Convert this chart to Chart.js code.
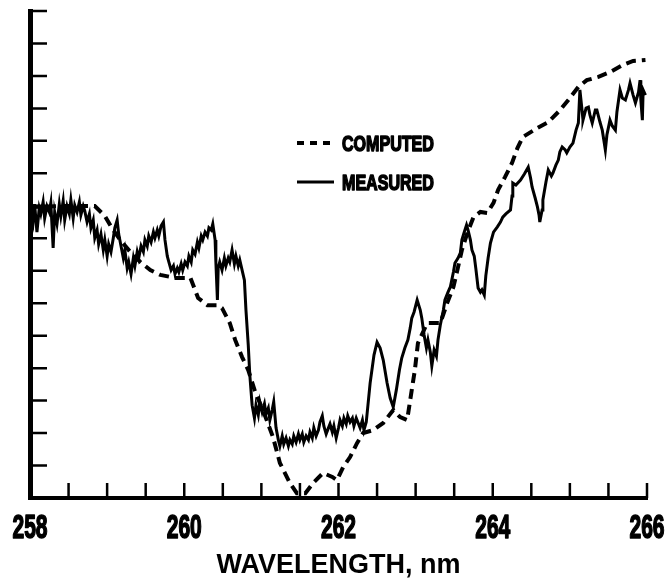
<!DOCTYPE html>
<html>
<head>
<meta charset="utf-8">
<script src="https://cdn.jsdelivr.net/npm/chart.js@4/dist/chart.umd.min.js"></script>
<style>
  html, body { margin: 0; padding: 0; background: #fff; }
</style>
</head>
<body>
<canvas id="myChart" width="668" height="578"></canvas>
<script>
// wavelength (nm) / relative signal
const computedX = [258.00, 258.39, 258.84, 258.97, 259.06, 259.17, 259.30, 259.43, 259.56, 259.69, 259.88, 260.08, 260.18, 260.30, 260.43, 260.49, 260.59, 260.66, 260.75, 260.83, 260.92, 261.02, 261.15, 261.24, 261.37, 261.46, 261.57, 261.67, 261.80, 261.92, 261.98, 262.06, 262.15, 262.24, 262.32, 262.45, 262.58, 262.71, 262.80, 262.89, 262.95, 262.99, 263.03, 263.15, 263.32, 263.41, 263.49, 263.55, 263.60, 263.67, 263.75, 263.84, 263.93, 264.01, 264.07, 264.16, 264.25, 264.32, 264.39, 264.58, 264.72, 264.85, 264.98, 265.11, 265.22, 265.37, 265.52, 265.69, 265.82, 265.98];
const computedY = [8.96, 8.99, 8.99, 8.69, 8.32, 7.95, 7.58, 7.27, 7.02, 6.87, 6.78, 6.78, 6.16, 5.94, 5.94, 5.85, 5.39, 4.87, 4.34, 3.94, 3.26, 2.71, 1.88, 1.08, 0.46, 0.15, 0.15, 0.46, 0.77, 0.65, 0.55, 0.95, 1.26, 1.69, 2.00, 2.09, 2.31, 2.71, 2.49, 2.40, 3.33, 3.94, 4.77, 5.39, 5.39, 6.01, 6.50, 7.11, 7.64, 8.16, 8.65, 8.81, 8.78, 9.09, 9.49, 9.89, 10.32, 10.78, 11.12, 11.40, 11.58, 11.89, 12.26, 12.66, 12.87, 12.97, 13.12, 13.34, 13.46, 13.49];

const measuredX = [
  258.01, 258.04, 258.06, 258.09, 258.12, 258.14, 258.17, 258.19, 258.22, 258.25, 258.27, 258.30, 258.32, 258.35, 258.38, 258.40, 258.43, 258.45, 258.48, 258.51, 258.53, 258.56, 258.58, 258.61, 258.64, 258.66, 258.69, 258.71, 258.74, 258.77, 258.79, 258.82, 258.84,
  258.87, 258.89, 258.92, 258.95, 258.97, 259.00, 259.02, 259.05, 259.08, 259.10, 259.13, 259.15, 259.18, 259.21, 259.23, 259.26, 259.28, 259.31, 259.34, 259.36, 259.39, 259.41, 259.44, 259.47, 259.49, 259.52, 259.54, 259.57, 259.60, 259.62, 259.65, 259.67, 259.70, 259.73,
  259.75, 259.78, 259.80, 259.83, 259.86, 259.88, 259.91, 259.93, 259.96, 259.98, 260.01, 260.04, 260.06, 260.09, 260.11, 260.14, 260.17, 260.19, 260.22, 260.24, 260.27, 260.30, 260.32, 260.35, 260.37,
  260.40, 260.41, 260.43, 260.44, 260.46, 260.49, 260.52, 260.54, 260.57, 260.59, 260.62, 260.65, 260.67, 260.70, 260.72, 260.75, 260.78,
  260.80, 260.83, 260.85, 260.88, 260.91, 260.93, 260.96, 260.98, 261.01, 261.04, 261.06, 261.09, 261.11, 261.14, 261.16, 261.19, 261.22, 261.24, 261.27, 261.29, 261.32, 261.35, 261.37,
  261.40, 261.42, 261.45, 261.48, 261.50, 261.53, 261.55, 261.58, 261.61, 261.63, 261.66, 261.68, 261.71, 261.74, 261.76, 261.79, 261.81, 261.84, 261.87, 261.89, 261.92, 261.94, 261.97, 262.00, 262.02, 262.05, 262.07, 262.10, 262.12, 262.15, 262.18, 262.20, 262.23, 262.25, 262.28, 262.31, 262.33, 262.36,
  262.41, 262.46, 262.50, 262.54, 262.58, 262.63, 262.67, 262.71, 262.75, 262.79, 262.82, 262.86, 262.90, 262.93, 262.95, 262.98, 263.02, 263.06, 263.08, 263.11, 263.14, 263.16, 263.19, 263.21, 263.24, 263.27, 263.29, 263.32,
  263.36, 263.38, 263.42, 263.45, 263.49, 263.51, 263.55, 263.58, 263.60, 263.63, 263.66, 263.68, 263.71, 263.73, 263.76, 263.78, 263.81, 263.84, 263.86, 263.89, 263.91, 263.94, 263.97,
  264.01, 264.06, 264.10, 264.13, 264.17, 264.23, 264.25, 264.26, 264.30, 264.36, 264.41, 264.46, 264.49, 264.51, 264.55, 264.58, 264.60, 264.61, 264.64, 264.65, 264.69, 264.72, 264.76, 264.78, 264.82, 264.85, 264.87, 264.90, 264.94, 264.96, 265.00, 265.04, 265.08, 265.11, 265.13, 265.16, 265.17, 265.21, 265.24, 265.26, 265.29, 265.33, 265.35, 265.39, 265.42, 265.44, 265.46, 265.48, 265.52, 265.55, 265.59, 265.61, 265.65, 265.68, 265.72, 265.76, 265.78, 265.82, 265.85, 265.89, 265.91, 265.92, 265.94, 265.95, 265.98
];
const measuredY = [
  8.87, 8.50, 9.05, 8.19, 8.93, 8.75, 9.12, 8.62, 8.99, 8.81, 9.09, 7.70, 8.81, 8.44, 9.05, 8.69, 9.15, 8.56, 8.99, 8.75, 9.18, 8.62, 9.02, 8.81, 9.12, 8.72, 8.99, 8.84, 8.50, 8.75, 8.32, 8.56, 8.01,
  8.25, 7.82, 8.13, 7.64, 7.95, 7.45, 7.82, 7.58, 8.01, 8.32, 8.56, 8.13, 7.76, 7.39, 7.64, 7.08, 7.27, 6.90, 7.39, 7.15, 7.58, 7.39, 7.76, 7.58, 7.95, 7.76, 8.07, 7.88, 8.19, 8.01, 8.25, 8.07, 8.38, 8.50,
  7.95, 7.45, 7.27, 7.02, 7.15, 6.90, 7.08, 6.96, 7.21, 7.02, 7.27, 7.15, 7.45, 7.27, 7.64, 7.51, 7.88, 7.70, 8.07, 7.95, 8.19, 8.07, 8.32, 8.25, 8.44,
  7.95, 7.27, 6.10, 7.08, 7.27, 7.02, 7.39, 7.15, 7.39, 7.27, 7.64, 7.21, 7.45, 7.15, 7.33, 7.02, 6.71,
  5.79, 4.71, 3.79, 2.86, 2.46, 2.86, 2.56, 2.96, 2.65, 2.90, 2.59, 2.77, 2.40, 2.71, 2.96, 2.16, 1.79, 1.60, 1.91, 1.66, 1.85, 1.60, 1.79,
  1.66, 1.91, 1.72, 1.97, 1.79, 1.97, 1.72, 1.91, 1.79, 2.03, 1.85, 2.16, 1.91, 2.09, 2.34, 2.53, 2.22, 1.97, 2.16, 2.28, 2.03, 2.22, 1.85, 2.16, 2.40, 2.22, 2.46, 2.28, 2.53, 2.34, 2.46, 2.22, 2.46, 2.34, 2.16, 2.40, 2.09, 2.34,
  3.54, 4.40, 4.80, 4.62, 4.25, 3.54, 3.08, 2.80, 3.33, 3.94, 4.31, 4.62, 4.87, 5.24, 5.54, 5.73, 6.10, 5.79, 5.54, 5.02, 4.62, 4.87, 4.50, 4.07, 4.56, 4.37, 4.87, 5.33,
  5.79, 6.10, 6.34, 6.50, 6.96, 7.24, 7.39, 7.55, 7.95, 8.19, 8.41, 8.25, 7.95, 7.64, 7.45, 7.08, 6.47, 6.34, 6.41, 6.25, 6.84, 7.39, 7.85,
  8.19, 8.35, 8.50, 8.65, 8.75, 8.87, 9.30, 9.70, 9.64, 9.79, 9.98, 10.19, 9.86, 9.58, 9.24, 8.96, 8.72, 8.50, 8.87, 9.18, 9.73, 10.10, 9.92, 10.01, 10.26, 10.41, 10.66, 10.81, 10.72, 10.63, 10.81, 10.93, 11.33, 11.55, 12.57, 11.89, 11.64, 12.01, 12.04, 11.80, 11.55, 11.95, 11.95, 11.58, 11.33, 11.03, 10.72, 11.18, 11.64, 11.46, 11.33, 11.89, 12.57, 12.32, 12.26, 12.57, 12.78, 12.41, 12.17, 12.50, 12.87, 12.26, 11.64, 12.57, 12.41
];

const xLabels = [258, 260, 262, 264, 266];
const seriesNames = ["COMPUTED", "MEASURED"];

const boldFamily = "'Liberation Sans', Arial, sans-serif";

function toPoints(xs, ys) {
  return xs.map((x, i) => ({ x: x, y: ys[i] }));
}

// squeezed heavy text, like the old condensed lettering
function narrowText(ctx, text, x, y, size, squeeze, align) {
  ctx.save();
  ctx.font = "bold " + size + "px " + boldFamily;
  ctx.textBaseline = "alphabetic";
  ctx.textAlign = align;
  ctx.translate(x, y);
  ctx.scale(squeeze, 1);
  ctx.fillStyle = "#000";
  ctx.strokeStyle = "#000";
  ctx.lineWidth = 1.6;
  ctx.lineJoin = "round";
  ctx.fillText(text, 0, 0);
  ctx.strokeText(text, 0, 0);
  ctx.restore();
}

// short tick marks pointing into the plot + the number labels
const insideTicks = {
  id: "insideTicks",
  afterDraw(chart) {
    const ctx = chart.ctx;
    const area = chart.chartArea;
    const xs = chart.scales.x;
    const ys = chart.scales.y;
    ctx.save();
    ctx.strokeStyle = "#000";
    ctx.lineWidth = 2.5;
    ctx.beginPath();
    xs.ticks.forEach(function (t) {
      if (t.value <= xs.min) return;
      const px = xs.getPixelForValue(t.value);
      ctx.moveTo(px, area.bottom);
      ctx.lineTo(px, area.bottom - 15);
    });
    ys.ticks.forEach(function (t) {
      if (t.value <= ys.min) return;
      const py = ys.getPixelForValue(t.value);
      ctx.moveTo(area.left, py);
      ctx.lineTo(area.left + 17, py);
    });
    ctx.stroke();
    xLabels.forEach(function (v) {
      narrowText(ctx, String(v), xs.getPixelForValue(v), area.bottom + 40, 34, 0.62, "center");
    });
    ctx.restore();
  }
};

// legend sits inside the plot, middle-top
const inlineLegend = {
  id: "inlineLegend",
  afterDraw(chart) {
    const ctx = chart.ctx;
    ctx.save();
    chart.data.datasets.forEach(function (ds, i) {
      const y = 143 + i * 39;
      ctx.strokeStyle = "#000";
      ctx.lineWidth = ds.borderWidth;
      ctx.setLineDash(ds.borderDash ? [7, 6] : []);
      ctx.beginPath();
      ctx.moveTo(297, y);
      ctx.lineTo(334, y);
      ctx.stroke();
      ctx.setLineDash([]);
      narrowText(ctx, ds.label, 342, y + 8, 22, 0.73, "left");
    });
    ctx.restore();
  }
};

const ctx = document.getElementById("myChart").getContext("2d");
const myChart = new Chart(ctx, {
  type: "scatter",
  data: {
    datasets: [
      {
        label: seriesNames[0],
        data: toPoints(computedX, computedY),
        showLine: true,
        borderColor: "#000",
        backgroundColor: "#000",
        borderWidth: 4,
        borderDash: [10, 6],
        pointRadius: 0,
        tension: 0,
      },
      {
        label: seriesNames[1],
        data: toPoints(measuredX, measuredY),
        showLine: true,
        borderColor: "#000",
        backgroundColor: "#000",
        borderWidth: 3,
        pointRadius: 0,
        tension: 0,
      },
    ],
  },
  options: {
    responsive: false,
    animation: false,
    layout: { padding: { top: 11, right: 21, left: 0, bottom: 0 } },
    plugins: {
      legend: { display: false },
      tooltip: { enabled: false },
    },
    scales: {
      x: {
        type: "linear",
        min: 258,
        max: 266,
        afterFit: function (scale) {
          scale.height = 80;
          scale.paddingLeft = 0;
          scale.paddingRight = 0;
        },
        grid: { display: false, drawTicks: false },
        border: { display: true, color: "#000", width: 4 },
        ticks: { stepSize: 0.5, autoSkip: false, display: false },
        title: {
          display: true,
          text: "WAVELENGTH, nm",
          color: "#000",
          padding: { top: 0, bottom: -4 },
          font: { family: boldFamily, weight: "bold", size: 27 },
        },
      },
      y: {
        min: 0,
        max: 15,
        afterFit: function (scale) { scale.width = 30; },
        grid: { display: false, drawTicks: false },
        border: { display: true, color: "#000", width: 5 },
        ticks: { stepSize: 1, display: false },
      },
    },
  },
  plugins: [insideTicks, inlineLegend],
});
</script>
</body>
</html>
